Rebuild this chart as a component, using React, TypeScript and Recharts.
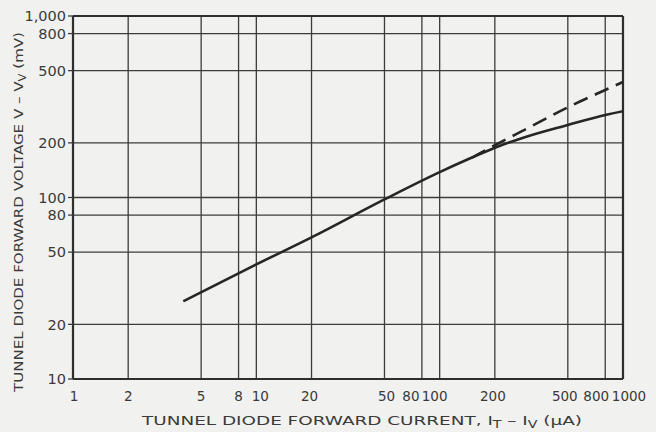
import React from "react";
import {
  ComposedChart,
  Line,
  XAxis,
  YAxis,
  CartesianGrid,
  ReferenceLine,
} from "recharts";

// Tunnel diode forward current (µA)
const currents = [4, 10, 20, 50, 100, 150, 200, 300, 500, 800, 1000];
// Measured forward voltage V - Vv (mV), solid curve
const measured = [26.8, 42.8, 60.3, 97.6, 138, 166, 188, 217, 251, 285, 299];
// Extrapolated square-law (dashed) curve
const extrapolated = [null, null, null, null, null, 166, 194, 240, 314, 391, 433];

const xTicks = [1, 2, 5, 8, 10, 20, 50, 80, 100, 200, 500, 800, 1000];
const yTicks = [10, 20, 50, 80, 100, 200, 500, 800, 1000];
const yTickLabels: Record<number, string> = {
  10: "10",
  20: "20",
  50: "50",
  80: "80",
  100: "100",
  200: "200",
  500: "500",
  800: "800",
  1000: "1,000",
};
// hand-lettered label nudges (px) as placed in the original drawing
const xLabelNudge: Record<number, number> = {
  1: 1,
  10: 4,
  20: -2,
  50: 2,
  80: -11,
  100: -5,
  200: -2,
  500: -3,
  800: -9,
  1000: 6,
};

const data = currents.map((c, i) => ({
  current: c,
  measured: measured[i],
  extrapolated: extrapolated[i],
}));

const INK = "#2e2e2e";
const FONT = "'DejaVu Sans', sans-serif";
const W = 656;
const H = 432;

const XTick = (props: any) => {
  const { x, y, payload } = props;
  const v = payload.value as number;
  return (
    <text
      x={x + (xLabelNudge[v] ?? 0)}
      y={y + 22}
      textAnchor="middle"
      fontFamily={FONT}
      fontSize={13.5}
      fill="#3a3a3a"
    >
      {String(v)}
    </text>
  );
};

export default function App() {
  return (
    <div
      style={{
        position: "absolute",
        left: 0,
        top: 0,
        width: W,
        height: H,
        background: "#f1f1ef",
      }}
    >
      <ComposedChart
        width={W}
        height={H}
        data={data}
        margin={{ top: 16, right: 33, bottom: 0, left: 0 }}
      >
        <CartesianGrid stroke="#3c3c3c" strokeWidth={1.3} />
        <XAxis
          dataKey="current"
          type="number"
          scale="log"
          domain={[1, 1000]}
          ticks={xTicks}
          allowDataOverflow
          height={53}
          tickLine={false}
          tickSize={0}
          tickMargin={0}
          axisLine={{ stroke: INK, strokeWidth: 2.2 }}
          tick={<XTick />}
          interval={0}
        />
        <YAxis
          type="number"
          scale="log"
          domain={[10, 1000]}
          ticks={yTicks}
          allowDataOverflow
          width={73}
          tickSize={5}
          tickMargin={2}
          tickLine={{ stroke: "#3c3c3c", strokeWidth: 1.3 }}
          axisLine={{ stroke: INK, strokeWidth: 2.2 }}
          tick={{ fill: "#3a3a3a", fontSize: 14.5, fontFamily: FONT }}
          tickFormatter={(v: number) => yTickLabels[v] ?? String(v)}
          interval={0}
        />
        <ReferenceLine y={1000} stroke={INK} strokeWidth={2.2} />
        <ReferenceLine x={1000} stroke={INK} strokeWidth={2.2} />
        <Line
          dataKey="extrapolated"
          type="monotone"
          stroke="#262626"
          strokeWidth={2.6}
          strokeDasharray="15 8"
          dot={false}
          connectNulls={false}
          isAnimationActive={false}
        />
        <Line
          dataKey="measured"
          type="monotone"
          stroke="#262626"
          strokeWidth={2.6}
          dot={false}
          isAnimationActive={false}
        />
      </ComposedChart>
      <svg
        width={W}
        height={H}
        style={{ position: "absolute", left: 0, top: 0, pointerEvents: "none" }}
      >
        <text
          x={362}
          y={425}
          textAnchor="middle"
          fontFamily={FONT}
          fontSize={13}
          fill="#3a3a3a"
          textLength={440}
          lengthAdjust="spacingAndGlyphs"
        >
          TUNNEL DIODE FORWARD CURRENT, I
          <tspan dy={3} fontSize={10}>T</tspan>
          <tspan dy={-3}> – I</tspan>
          <tspan dy={3} fontSize={10}>V</tspan>
          <tspan dy={-3}> (μA)</tspan>
        </text>
        <text
          transform="translate(23,212) rotate(-90)"
          x={0}
          y={0}
          textAnchor="middle"
          fontFamily={FONT}
          fontSize={13}
          fill="#3a3a3a"
          textLength={360}
          lengthAdjust="spacingAndGlyphs"
        >
          TUNNEL DIODE FORWARD VOLTAGE  V – V
          <tspan dy={3} fontSize={10}>V</tspan>
          <tspan dy={-3}> (mV)</tspan>
        </text>
      </svg>
    </div>
  );
}
